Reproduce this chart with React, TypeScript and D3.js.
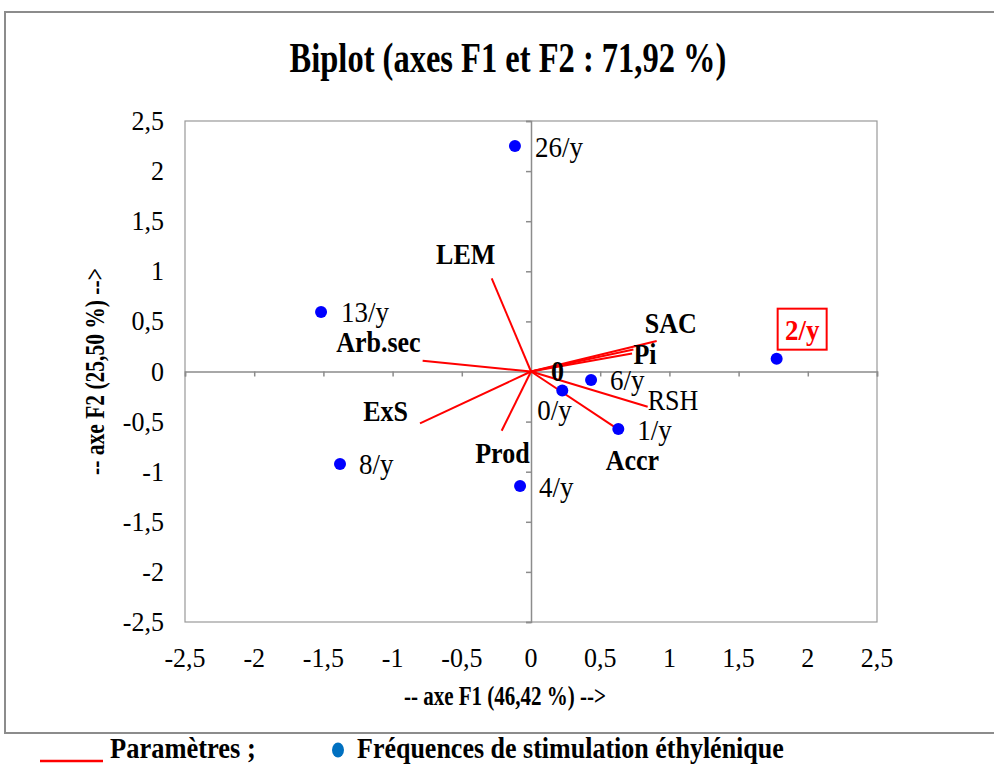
import React, { useEffect, useRef } from 'react';
import * as d3 from 'd3';

// observations (fréquences de stimulation)
const obsNames = ['26/y', '13/y', '8/y', '4/y', '0/y', '6/y', '1/y', '2/y'];
const obsF1 = [-0.116, -1.517, -1.38, -0.079, 0.226, 0.434, 0.631, 1.775];
const obsF2 = [2.25, 0.594, -0.923, -1.143, -0.19, -0.085, -0.574, 0.128];

// variables (paramètres)
const varNames = ['LEM', 'Arb.sec', 'ExS', 'Prod', 'SAC', 'Pi', 'Pi2', 'RSH', 'Accr'];
const varF1 = [-0.284, -0.783, -0.802, -0.212, 0.908, 0.74, 0.73, 0.843, 0.619];
const varF2 = [0.93, 0.108, -0.518, -0.591, 0.304, 0.22, 0.18, -0.351, -0.567];

const ticks = [-2.5, -2, -1.5, -1, -0.5, 0, 0.5, 1, 1.5, 2, 2.5];

const fmt = (v: number) => String(v).replace('.', ',');

type TextOpts = {
  size: number;
  bold?: boolean;
  anchor?: string;
  sy?: number;
  fill?: string;
};

export default function App() {
  const ref = useRef<SVGSVGElement>(null);

  useEffect(() => {
    const svg = d3.select(ref.current);
    svg.selectAll('*').remove();

    const font = '"Liberation Serif", "Times New Roman", serif';
    const plot = { left: 185, right: 877, top: 121, bottom: 622 };

    const x = d3.scaleLinear().domain([-2.5, 2.5]).range([plot.left, plot.right]);
    const y = d3.scaleLinear().domain([-2.5, 2.5]).range([plot.bottom, plot.top]);

    // text with slight vertical stretch, like the source picture
    const addText = (
      parent: d3.Selection<any, unknown, null, undefined>,
      tx: number,
      ty: number,
      label: string,
      o: TextOpts,
      rotate = 0
    ) =>
      parent
        .append('text')
        .attr('transform', `translate(${tx}, ${ty}) rotate(${rotate}) scale(1, ${o.sy ?? 1.1})`)
        .attr('text-anchor', o.anchor ?? 'start')
        .attr('font-family', font)
        .attr('font-weight', o.bold ? 'bold' : 'normal')
        .attr('font-size', o.size)
        .attr('fill', o.fill ?? '#000')
        .text(label);

    // outer frame
    svg
      .append('rect')
      .attr('x', 5)
      .attr('y', 12)
      .attr('width', 1000)
      .attr('height', 721)
      .attr('fill', 'white')
      .attr('stroke', '#8c8c8c')
      .attr('stroke-width', 2);

    addText(svg, 508, 72, 'Biplot (axes F1 et F2 : 71,92 %)', {
      size: 32.5,
      bold: true,
      anchor: 'middle',
      sy: 1.33,
    });

    // plot area
    svg
      .append('rect')
      .attr('x', plot.left)
      .attr('y', plot.top)
      .attr('width', plot.right - plot.left)
      .attr('height', plot.bottom - plot.top)
      .attr('fill', 'none')
      .attr('stroke', '#999')
      .attr('stroke-width', 1.2);

    // axes through origin
    const xAxis = d3.axisBottom(x).tickValues(ticks).tickSize(5).tickFormat(() => '');
    const yAxis = d3.axisLeft(y).tickValues(ticks).tickSize(5).tickFormat(() => '');

    const gx = svg.append('g').attr('transform', `translate(0, ${y(0)})`).call(xAxis);
    const gy = svg.append('g').attr('transform', `translate(${x(0)}, 0)`).call(yAxis);
    [gx, gy].forEach((g) => {
      g.selectAll('path,line').attr('stroke', '#8c8c8c').attr('stroke-width', 1.5);
    });

    // tick labels on the frame
    const gTicks = svg.append('g');
    ticks.forEach((t) => {
      addText(gTicks, x(t), 667, fmt(t), { size: 26, anchor: 'middle', sy: 1.08 });
      addText(gTicks, 164, y(t) + 9, fmt(t), { size: 26, anchor: 'end', sy: 1.08 });
    });

    // axis titles
    addText(svg, 505, 705, '-- axe F1 (46,42 %) -->', {
      size: 21,
      bold: true,
      anchor: 'middle',
      sy: 1.25,
    });
    addText(
      svg,
      104,
      y(0),
      '-- axe F2 (25,50 %) -->',
      { size: 21.5, bold: true, anchor: 'middle', sy: 1.25 },
      -90
    );

    // variable vectors
    svg
      .append('g')
      .selectAll('line')
      .data(varNames)
      .enter()
      .append('line')
      .attr('x1', x(0))
      .attr('y1', y(0))
      .attr('x2', (_, i) => x(varF1[i]))
      .attr('y2', (_, i) => y(varF2[i]))
      .attr('stroke', '#ff0000')
      .attr('stroke-width', 2);

    const varLabelPos: Record<string, [number, number, string, boolean]> = {
      LEM: [-26, -14, 'middle', true],
      'Arb.sec': [-2, -9, 'end', true],
      ExS: [-12, -2, 'end', true],
      Prod: [28, 32, 'end', true],
      SAC: [-12, -8, 'start', true],
      Pi: [0, 15, 'start', true],
      RSH: [0, 3, 'start', false],
      Accr: [-11, 42, 'start', true],
    };

    const gVarLab = svg.append('g');
    varNames.forEach((name, i) => {
      const p = varLabelPos[name];
      if (!p) return;
      addText(gVarLab, x(varF1[i]) + p[0], y(varF2[i]) + p[1], name, {
        size: 26,
        bold: p[3],
        anchor: p[2],
      });
    });
    addText(gVarLab, x(0) + 20, y(0) + 9, '0', { size: 26, bold: true });

    // observations
    svg
      .append('g')
      .selectAll('circle')
      .data(obsNames)
      .enter()
      .append('circle')
      .attr('cx', (_, i) => x(obsF1[i]))
      .attr('cy', (_, i) => y(obsF2[i]))
      .attr('r', 6)
      .attr('fill', '#0000ff');

    const obsLabelPos: Record<string, [number, number]> = {
      '26/y': [20, 11],
      '13/y': [20, 10],
      '8/y': [19, 10],
      '4/y': [19, 11],
      '0/y': [-25, 29],
      '6/y': [19, 10],
      '1/y': [19, 11],
    };

    const gObsLab = svg.append('g');
    obsNames.forEach((name, i) => {
      const p = obsLabelPos[name];
      if (!p) return;
      addText(gObsLab, x(obsF1[i]) + p[0], y(obsF2[i]) + p[1], name, { size: 27 });
    });

    // highlighted 2/y label
    const i2 = obsNames.indexOf('2/y');
    svg
      .append('rect')
      .attr('x', x(obsF1[i2]) + 1)
      .attr('y', y(obsF2[i2]) - 50)
      .attr('width', 49)
      .attr('height', 41)
      .attr('fill', 'white')
      .attr('stroke', '#ff0000')
      .attr('stroke-width', 2);
    addText(svg, x(obsF1[i2]) + 25.5, y(obsF2[i2]) - 19, '2/y', {
      size: 27,
      bold: true,
      anchor: 'middle',
      fill: '#ff0000',
    });

    // legend
    svg
      .append('line')
      .attr('x1', 40)
      .attr('x2', 103)
      .attr('y1', 761)
      .attr('y2', 761)
      .attr('stroke', '#ff0000')
      .attr('stroke-width', 2.5);
    addText(svg, 110, 758, 'Paramètres ;', { size: 26.5, bold: true, sy: 1.1 });
    svg
      .append('ellipse')
      .attr('cx', 338)
      .attr('cy', 750)
      .attr('rx', 6)
      .attr('ry', 7.5)
      .attr('fill', '#0070c0');
    addText(svg, 357, 758, 'Fréquences de stimulation éthylénique', {
      size: 26,
      bold: true,
      sy: 1.1,
    });
  }, []);

  return (
    <svg
      ref={ref}
      width={994}
      height={766}
      style={{ position: 'absolute', left: 0, top: 0, background: 'white' }}
    />
  );
}
